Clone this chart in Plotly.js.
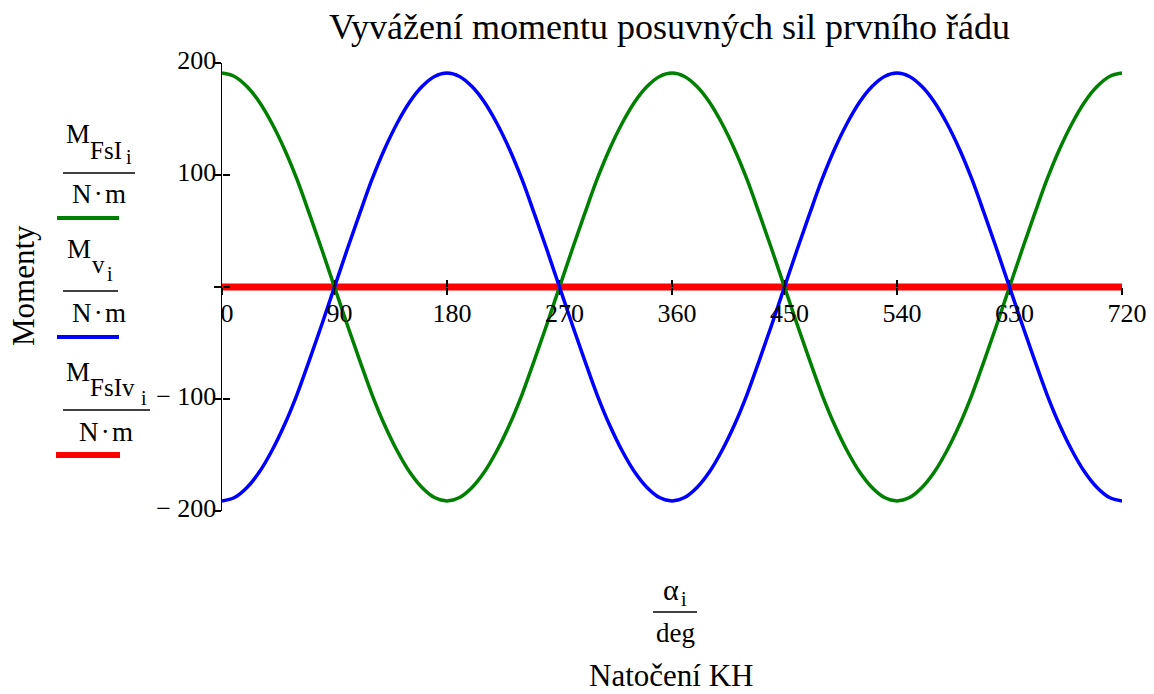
<!DOCTYPE html>
<html>
<head>
<meta charset="utf-8">
<script src="https://cdn.plot.ly/plotly-3.0.1.min.js"></script>
<style>html,body{margin:0;padding:0;background:#fff;}#chart{width:1154px;height:694px;}</style>
</head>
<body>
<div id="chart"></div>
<script>
// ---- data (angle in deg, moments in N·m) ----
const angleDeg = [0,10,20,30,40,50,60,70,80,90,100,110,120,130,140,150,160,170,180,190,200,210,220,230,240,250,260,270,280,290,300,310,320,330,340,350,360,
                  370,380,390,400,410,420,430,440,450,460,470,480,490,500,510,520,530,540,550,560,570,580,590,600,610,620,630,640,650,660,670,680,690,700,710,720];
const momentFsI = [191,188,179,165,146,123,96,65,33,0,-33,-65,-96,-123,-146,-165,-179,-188,-191,-188,-179,-165,-146,-123,-96,-65,-33,0,33,65,96,123,146,165,179,188,191,
                   188,179,165,146,123,96,65,33,0,-33,-65,-96,-123,-146,-165,-179,-188,-191,-188,-179,-165,-146,-123,-96,-65,-33,0,33,65,96,123,146,165,179,188,191];
const momentV = [-191,-188,-179,-165,-146,-123,-96,-65,-33,0,33,65,96,123,146,165,179,188,191,188,179,165,146,123,96,65,33,0,-33,-65,-96,-123,-146,-165,-179,-188,-191,
                 -188,-179,-165,-146,-123,-96,-65,-33,0,33,65,96,123,146,165,179,188,191,188,179,165,146,123,96,65,33,0,-33,-65,-96,-123,-146,-165,-179,-188,-191];
const momentFsIv = [0,0,0,0,0,0,0,0,0,0,0,0,0,0,0,0,0,0,0,0,0,0,0,0,0,0,0,0,0,0,0,0,0,0,0,0,0,
                    0,0,0,0,0,0,0,0,0,0,0,0,0,0,0,0,0,0,0,0,0,0,0,0,0,0,0,0,0,0,0,0,0,0,0,0];
const xTicks = [0,90,180,270,360,450,540,630,720];
const yTicks = [-200,-100,0,100,200];
const yTickText = ['\u2212 200','\u2212 100','','100','200'];
const titleText = 'Vyvážení momentu posuvných sil prvního řádu';
const yTitle = 'Momenty';
const xTitle = 'Natočení KH';

const FONT = 'Liberation Serif, Times New Roman, serif';
const L = 222, R = 1122, T = 63, B = 511;
const px = x => (x - L) / (R - L);
const py = y => (B - y) / (B - T);

const traces = [
  {x: angleDeg, y: momentFsIv, type: 'scatter', mode: 'lines', line: {color: '#ff0000', width: 7}, xaxis: 'x', yaxis: 'y'},
  {x: angleDeg, y: momentFsI, type: 'scatter', mode: 'lines', line: {color: '#008000', width: 3.5, shape: 'spline'}, xaxis: 'x2', yaxis: 'y2'},
  {x: angleDeg, y: momentV, type: 'scatter', mode: 'lines', line: {color: '#0000ff', width: 3.5, shape: 'spline'}, xaxis: 'x2', yaxis: 'y2'}
];

function ann(text, x, y, size, xanchor, angle) {
  return {text: text, xref: 'paper', yref: 'paper', x: px(x), y: py(y), xanchor: xanchor || 'left', yanchor: 'middle',
          showarrow: false, textangle: angle || 0, font: {family: FONT, size: size, color: '#000'}};
}
function hline(x0, x1, y, color, w) {
  return {type: 'line', xref: 'paper', yref: 'paper', x0: px(x0), x1: px(x1), y0: py(y), y1: py(y),
          line: {color: color, width: w}};
}

const annotations = [
  ann(titleText, 669, 27, 36, 'center'),
  ann(yTitle, 23, 286, 31, 'center', -90),
  // legend 1
  ann('M', 64, 134, 27), ann('FsI', 88, 150, 25), ann('i', 124, 157, 20),
  ann('N\u200a·\u200am', 99, 194, 27, 'center'),
  // legend 2
  ann('M', 65, 249, 27), ann('v', 90, 264, 25), ann('i', 105, 274, 20),
  ann('N\u200a·\u200am', 99, 313, 27, 'center'),
  // legend 3
  ann('M', 64, 372, 27), ann('FsIv', 88, 387, 25), ann('i', 139, 398, 20),
  ann('N\u200a·\u200am', 106, 432, 27, 'center'),
  // x axis fraction + title
  ann('α', 671, 589, 30, 'center'), ann('i', 679, 599, 20),
  ann('deg', 675, 633, 27, 'center'),
  ann(xTitle, 671, 675, 31, 'center')
];

const shapes = [
  hline(63, 135, 173, '#000', 1.5), hline(57, 119, 218, '#008000', 4),
  hline(63, 118, 291, '#000', 1.5), hline(57, 119, 337, '#0000ff', 4),
  hline(63, 150, 410, '#000', 1.5), hline(56, 120, 455, '#ff0000', 6),
  hline(653, 697, 612, '#000', 1.5)
];

const layout = {
  width: 1154, height: 694,
  margin: {l: L, r: 1154 - R, t: T, b: 694 - B},
  paper_bgcolor: '#fff', plot_bgcolor: 'rgba(0,0,0,0)',
  showlegend: false,
  font: {family: FONT, color: '#000'},
  xaxis: {range: [0, 720], anchor: 'free', position: 0.5, tickmode: 'array', tickvals: xTicks,
          ticks: 'outside', ticklen: 7, tickwidth: 1.5, tickcolor: '#000', showline: false,
          showgrid: false, zeroline: false, tickfont: {family: FONT, size: 26, color: '#000'},
          ticklabelshift: 5, ticklabelstandoff: -4, fixedrange: true},
  yaxis: {range: [-200, 200], tickmode: 'array', tickvals: yTicks, ticktext: yTickText,
          ticks: 'outside', ticklen: 7, tickwidth: 1.5, tickcolor: '#000', showline: true, linecolor: '#000', linewidth: 1.5,
          showgrid: false, zeroline: false, tickfont: {family: FONT, size: 26, color: '#000'},
          ticklabelstandoff: -8, ticklabelshift: -3, fixedrange: true},
  xaxis2: {range: [0, 720], overlaying: 'x', anchor: 'free', position: 0.5, tickmode: 'array', tickvals: xTicks,
           ticks: 'inside', ticklen: 7, tickwidth: 1.5, tickcolor: '#000', showticklabels: false,
           showline: false, showgrid: false, zeroline: false, fixedrange: true},
  yaxis2: {range: [-200, 200], overlaying: 'y', anchor: 'free', position: 0, tickmode: 'array', tickvals: yTicks,
           ticks: 'inside', ticklen: 7, tickwidth: 1.5, tickcolor: '#000', showticklabels: false,
           showline: false, showgrid: false, zeroline: false, fixedrange: true},
  annotations: annotations,
  shapes: shapes
};

Plotly.newPlot('chart', traces, layout, {displayModeBar: false, staticPlot: true});
</script>
</body>
</html>
